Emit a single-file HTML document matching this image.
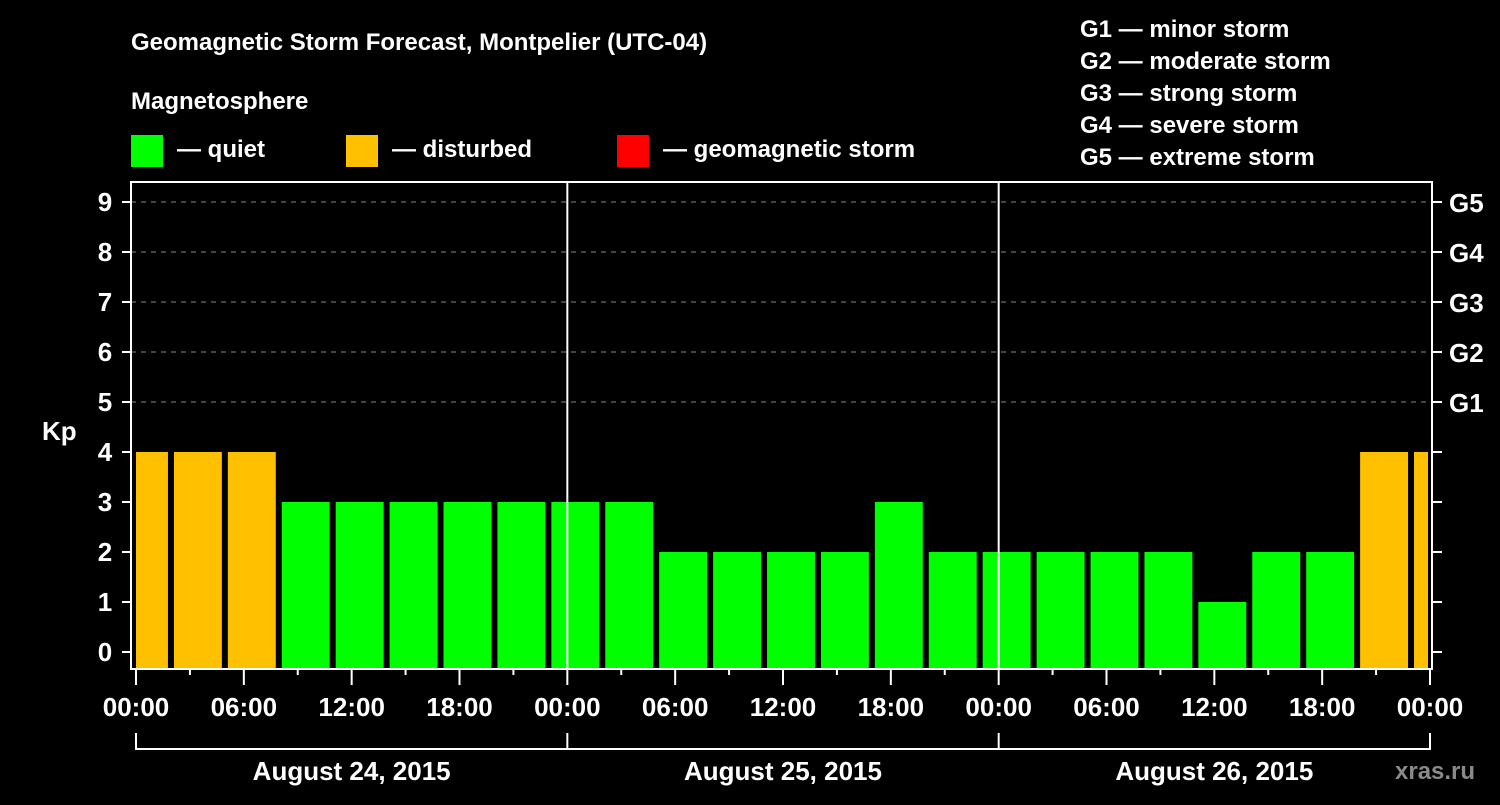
<!DOCTYPE html>
<html><head><meta charset="utf-8"><style>
body{margin:0;background:#000;width:1500px;height:800px;overflow:hidden}
svg text{font-family:"Liberation Sans",sans-serif;font-weight:bold;fill:#fff}
</style></head><body>
<svg id="c" width="1500" height="800">
<text x="131" y="50" font-size="24">Geomagnetic Storm Forecast, Montpelier (UTC-04)</text>
<text x="131" y="109" font-size="24">Magnetosphere</text>
<rect x="131" y="135" width="32" height="32" fill="#00ff00"/>
<text x="177" y="157" font-size="24">— quiet</text>
<rect x="346" y="135" width="32" height="32" fill="#ffc000"/>
<text x="392" y="157" font-size="24">— disturbed</text>
<rect x="617" y="135" width="32" height="32" fill="#ff0000"/>
<text x="663" y="157" font-size="24">— geomagnetic storm</text>
<g font-size="24">
<text x="1080" y="37">G1 — minor storm</text>
<text x="1080" y="69">G2 — moderate storm</text>
<text x="1080" y="101">G3 — strong storm</text>
<text x="1080" y="133">G4 — severe storm</text>
<text x="1080" y="165">G5 — extreme storm</text>
</g>
<text x="42" y="440" font-size="26">Kp</text>
<text x="1395" y="779" font-size="24" fill="#888" style="fill:#8a8a8a">xras.ru</text>
<g id="plot"></g>
</svg>
<script>
const kpValues=[4,4,4,3,3,3,3,3,3,3,2,2,2,2,3,2,2,2,2,2,1,2,2,4,4];
const kpColors=["#ffc000","#ffc000","#ffc000","#00ff00","#00ff00","#00ff00","#00ff00","#00ff00","#00ff00","#00ff00","#00ff00","#00ff00","#00ff00","#00ff00","#00ff00","#00ff00","#00ff00","#00ff00","#00ff00","#00ff00","#00ff00","#00ff00","#00ff00","#ffc000","#ffc000"];
const yTicks=[0,1,2,3,4,5,6,7,8,9];
const gLabels=["G1","G2","G3","G4","G5"];
const xTickLabels=["00:00","06:00","12:00","18:00","00:00","06:00","12:00","18:00","00:00","06:00","12:00","18:00","00:00"];
const dayLabels=["August 24, 2015","August 25, 2015","August 26, 2015"];
const ns="http://www.w3.org/2000/svg";
const g=document.getElementById('plot');
const X0=136,X1=1430,H=72;
const x=h=>X0+(X1-X0)*h/H;
const y=v=>652-50*v;
function el(t,a){const e=document.createElementNS(ns,t);for(const k in a)e.setAttribute(k,a[k]);g.appendChild(e);return e;}
// grid
yTicks.forEach(v=>{if(v>=5){const l=el('line',{x1:131,x2:1432,y1:y(v),y2:y(v),stroke:'#888','stroke-dasharray':'5,5','stroke-width':1});

}});
// bars
kpValues.forEach((v,i)=>{let h0=-1+3*i,h1=h0+3;let a=Math.max(x(h0)+2,x(0)),b=Math.min(x(h1)-4,x(H)-2);
const r=el('rect',{x:a,y:y(v),width:b-a,height:668-y(v),fill:kpColors[i]});

});
// midnight lines
[24,48].forEach(h=>{const l=el('line',{x1:x(h),x2:x(h),y1:182,y2:668,stroke:'#fff','stroke-width':2});

});
// frame
const f=el('rect',{x:131,y:182,width:1301,height:487,fill:'none',stroke:'#fff','stroke-width':2});


// y ticks
yTicks.forEach(v=>{el('line',{x1:122,x2:131,y1:y(v),y2:y(v),stroke:'#fff','stroke-width':2});
el('line',{x1:1432,x2:1442,y1:y(v),y2:y(v),stroke:'#fff','stroke-width':2});
const t=el('text',{x:105,y:y(v)+9,'font-size':26,'text-anchor':'middle'});t.textContent=v;

});
gLabels.forEach((s,i)=>{const t=el('text',{x:1449,y:y(5+i)+10,'font-size':26});t.textContent=s;

});
// x ticks
for(let h=0;h<=H;h+=3){const major=h%6==0;el('line',{x1:x(h),x2:x(h),y1:669,y2:major?685:675,stroke:'#fff','stroke-width':2});}
xTickLabels.forEach((s,i)=>{const t=el('text',{x:x(i*6),y:716,'font-size':26,'text-anchor':'middle'});t.textContent=s;

});
// day brackets
el('line',{x1:x(0),x2:x(72),y1:749,y2:749,stroke:'#fff','stroke-width':2});
[0,24,48,72].forEach(h=>el('line',{x1:x(h),x2:x(h),y1:733,y2:750,stroke:'#fff','stroke-width':2}));
dayLabels.forEach((s,i)=>{const t=el('text',{x:x(i*24+12),y:780,'font-size':26,'text-anchor':'middle'});t.textContent=s;

});
</script>
</body></html>
